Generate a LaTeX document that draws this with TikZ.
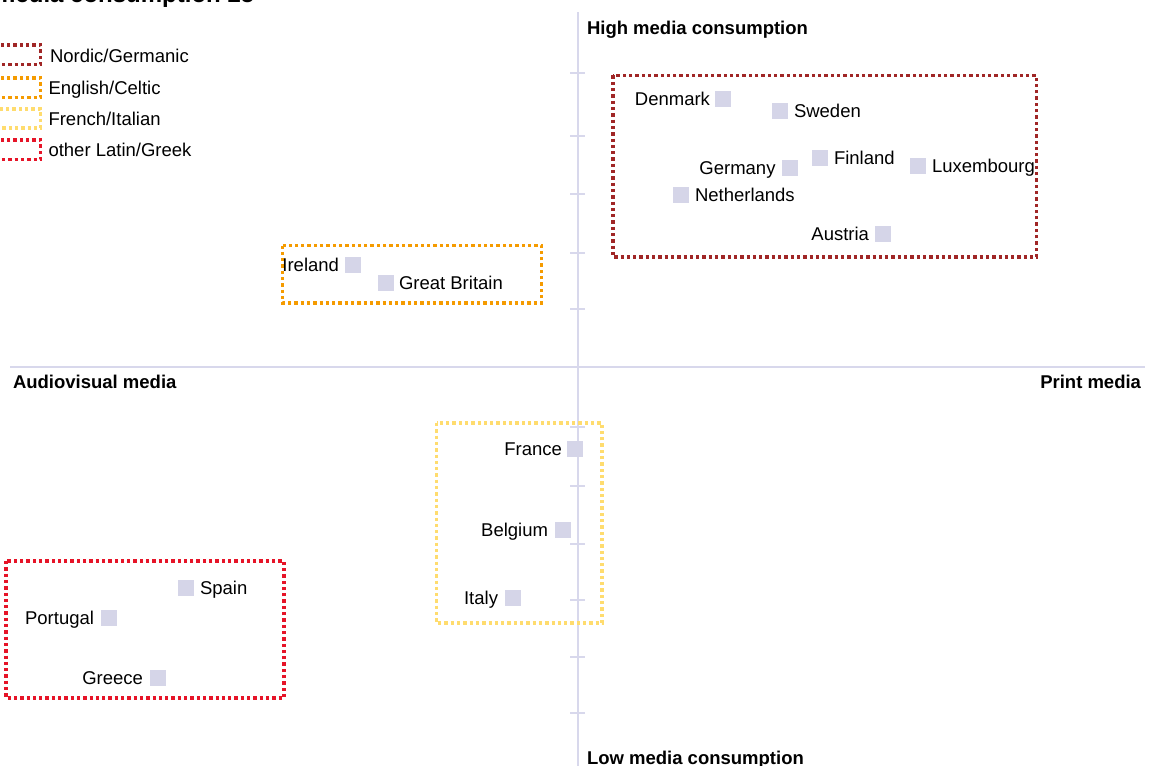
\documentclass[tikz,border=0pt]{standalone}
\usepackage{fontspec}
\setmainfont{Liberation Sans}
\usetikzlibrary{calc}
\definecolor{axiscol}{RGB}{216,216,236}
\definecolor{markcol}{RGB}{213,213,232}
\definecolor{nordiccol}{RGB}{160,38,38}
\definecolor{englishcol}{RGB}{245,155,0}
\definecolor{frenchcol}{RGB}{255,220,110}
\definecolor{latincol}{RGB}{230,20,40}
\tikzset{
  axisline/.style={draw=axiscol, line width=2pt},
  grpbox/.style={line width=3.4pt, dash pattern=on 3.3pt off 3pt},
  mk/.style={fill=markcol, draw=none, minimum size=16pt, inner sep=0pt, outer sep=0pt},
  lbl/.style={inner sep=0pt, outer sep=0pt, font=\fontsize{18.5}{22}\selectfont, text=black},
  axlbl/.style={inner sep=0pt, outer sep=0pt, font=\fontsize{18.5}{22}\selectfont\bfseries, text=black},
}
\begin{document}
\begin{tikzpicture}[x=1pt,y=-1pt]
\useasboundingbox (0,0) rectangle (1155,765);
\begin{scope}
\clip (0,0) rectangle (1155,765);
% title (clipped)
\node[inner sep=0pt, anchor=base west, font=\fontsize{24}{28}\selectfont\bfseries] (title) at (-6,3) {media consumption 25};

% axes
\coordinate (vtop) at (577.5,12.5);
\coordinate (vbot) at (577.5,770);
\coordinate (hleft) at (10,367);
\coordinate (hright) at (1145,367);
\draw[axisline] (hleft) -- (hright);
\draw[axisline] (vtop) -- (vbot);
\foreach \ty in {73,136,194,253,309,427,486,544,600,657,713}{
  \draw[axisline] (570,\ty) -- (585,\ty);
}

% axis labels
\node[axlbl, anchor=base west] (high) at (587,34.3) {High media consumption};
\node[axlbl, anchor=base west] (low) at (587,764.5) {Low media consumption};
\node[axlbl, anchor=base west] (audio) at (13,388.3) {Audiovisual media};
\node[axlbl, anchor=base east] (print) at (1141,388.3) {Print media};

% legend
\draw[grpbox, draw=nordiccol] (-10,45) rectangle (40.5,64.5);
\draw[grpbox, draw=englishcol] (-10,78) rectangle (40.5,97.5);
\draw[grpbox, draw=frenchcol] (-10,109) rectangle (40.5,128);
\draw[grpbox, draw=latincol] (-10,140) rectangle (40.5,159.5);
\node[lbl, anchor=base west] (lg1) at (50,62.7) {Nordic/Germanic};
\node[lbl, anchor=base west] (lg2) at (48.5,94.8) {English/Celtic};
\node[lbl, anchor=base west] (lg3) at (48.5,125) {French/Italian};
\node[lbl, anchor=base west] (lg4) at (48.5,156) {other Latin/Greek};

% group boxes
\draw[grpbox, draw=nordiccol] (613,75.5) rectangle (1036.5,257);
\draw[grpbox, draw=englishcol] (282.5,245.5) rectangle (541.5,303);
\draw[grpbox, draw=frenchcol] (436.5,423) rectangle (602,623);
\draw[grpbox, draw=latincol] (6,561) rectangle (284,698);

% markers
\node[mk] (dk) at (723,99) {};
\node[mk] (se) at (780,111) {};
\node[mk] (de) at (789.5,168) {};
\node[mk] (fi) at (820,158) {};
\node[mk] (lu) at (918,166) {};
\node[mk] (nl) at (681,195) {};
\node[mk] (at) at (883,234) {};
\node[mk] (ie) at (353,265) {};
\node[mk] (gb) at (386,283) {};
\node[mk] (fr) at (575,449) {};
\node[mk] (be) at (563,530) {};
\node[mk] (it) at (513,598) {};
\node[mk] (es) at (186,588) {};
\node[mk] (pt) at (109,618) {};
\node[mk] (gr) at (158,678) {};

% labels (left)
\node[lbl, anchor=base east] (dkl) at ($(dk.west)+(-5,6.6)$) {Denmark};
\node[lbl, anchor=base east] (del) at ($(de.west)+(-6,6.6)$) {Germany};
\node[lbl, anchor=base east] (atl) at ($(at.west)+(-6,6.6)$) {Austria};
\node[lbl, anchor=base east] (iel) at ($(ie.west)+(-6,6.6)$) {Ireland};
\node[lbl, anchor=base east] (frl) at ($(fr.west)+(-5,6.6)$) {France};
\node[lbl, anchor=base east] (bel) at ($(be.west)+(-7,6.6)$) {Belgium};
\node[lbl, anchor=base east] (itl) at ($(it.west)+(-7,6.6)$) {Italy};
\node[lbl, anchor=base east] (ptl) at ($(pt.west)+(-7,6.6)$) {Portugal};
\node[lbl, anchor=base east] (grl) at ($(gr.west)+(-7,6.6)$) {Greece};
% labels (right)
\node[lbl, anchor=base west] (sel) at ($(se.east)+(6,6.6)$) {Sweden};
\node[lbl, anchor=base west] (fil) at ($(fi.east)+(6,6.6)$) {Finland};
\node[lbl, anchor=base west] (lul) at ($(lu.east)+(6,6.6)$) {Luxembourg};
\node[lbl, anchor=base west] (nll) at ($(nl.east)+(6,6.6)$) {Netherlands};
\node[lbl, anchor=base west] (gbl) at ($(gb.east)+(5,6.6)$) {Great Britain};
\node[lbl, anchor=base west] (esl) at ($(es.east)+(6,6.6)$) {Spain};
\end{scope}
\end{tikzpicture}
\end{document}
